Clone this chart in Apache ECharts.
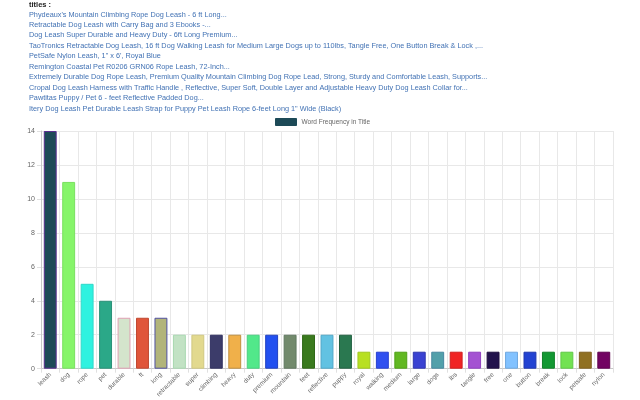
<!DOCTYPE html>
<html>
<head>
<meta charset="utf-8">
<script src="https://cdn.jsdelivr.net/npm/echarts@6/dist/echarts.min.js"></script>
<style>html,body{margin:0;padding:0;background:#fff;}#c{width:640px;height:400px;}</style>
</head>
<body>
<div id="c"></div>
<script>
const headerLabel = 'titles :';
const titleLines = [
  "Phydeaux's Mountain Climbing Rope Dog Leash - 6 ft Long...",
  "Retractable Dog Leash with Carry Bag and 3 Ebooks -...",
  "Dog Leash Super Durable and Heavy Duty - 6ft Long Premium...",
  "TaoTronics Retractable Dog Leash, 16 ft Dog Walking Leash for Medium Large Dogs up to 110lbs, Tangle Free, One Button Break & Lock ,...",
  "PetSafe Nylon Leash, 1\" x 6', Royal Blue",
  "Remington Coastal Pet R0206 GRN06 Rope Leash, 72-Inch...",
  "Extremely Durable Dog Rope Leash, Premium Quality Mountain Climbing Dog Rope Lead, Strong, Sturdy and Comfortable Leash, Supports...",
  "Cropal Dog Leash Harness with Traffic Handle , Reflective, Super Soft, Double Layer and Adjustable Heavy Duty Dog Leash Collar for...",
  "Pawtitas Puppy / Pet 6 - feet Reflective Padded Dog...",
  "Itery Dog Leash Pet Durable Leash Strap for Puppy Pet Leash Rope 6-feet Long 1\" Wide (Black)"
];
const seriesName = 'Word Frequency in Title';
const categories = ['leash','dog','rope','pet','durable','ft','long','retractable','super','climbing','heavy','duty','premium','mountain','feet','reflective','puppy','royal','walking','medium','large','dogs','lbs','tangle','free','one','button','break','lock','petsafe','nylon'];
const values = [14,11,5,4,3,3,3,2,2,2,2,2,2,2,2,2,2,1,1,1,1,1,1,1,1,1,1,1,1,1,1];
const barColors = ['#1d4a57','#86f56a','#2ef2e0','#2ba888','#d4e4cc','#e0553a','#b2b47a','#c2e2c4','#e2d98e','#3c3c6a','#f0b04a','#52e88a','#2250f0','#728a6c','#3a7a1e','#62c2e2','#2a7850','#b8e022','#3050f0','#62b822','#3a42d2','#52a0aa','#f02424','#a452d2','#22124c','#82c2ff','#2242d2','#129832','#72e252','#907022','#720462'];
const borderColors = ['#5a2e90','#7ae060','#30d8c8','#2a9078','#e0a0b4','#c04830','#5050a0','#a8d8b0','#d0c880','#303060','#c09040','#48d080','#2040c0','#607860','#306818','#50a8c8','#206040','#a0c820','#2840d0','#50a018','#3038b0','#4888a0','#d02020','#9040c0','#201040','#70a8e0','#2038b0','#108028','#60c848','#806020','#600450'];
const yTicks = [0,2,4,6,8,10,12,14];

const chart = echarts.init(document.getElementById('c'));
const graphics = [{
  type: 'text', left: 29, top: 1,
  style: {text: headerLabel, font: 'bold 7.5px "Liberation Sans", Arial, sans-serif', fill: '#222'}
}];
titleLines.forEach((t, i) => {
  graphics.push({
    type: 'text', left: 29, top: 11 + i * 10.45,
    style: {text: t, font: '7.3px "Liberation Sans", Arial, sans-serif', fill: '#4272b4'}
  });
});
chart.setOption({
  animation: false,
  graphic: graphics,
  legend: {
    top: 113, left: 270,
    icon: 'rect',
    itemWidth: 21, itemHeight: 7, itemGap: 4,
    textStyle: {fontSize: 6.5, color: '#666', fontFamily: '"Liberation Sans", Arial, sans-serif'},
    data: [{name: seriesName, itemStyle: {color: barColors[0], borderColor: barColors[0], borderWidth: 1}}]
  },
  grid: {left: 41, right: 27, top: 131, bottom: 27, containLabel: false},
  xAxis: {
    type: 'category', data: categories,
    axisLine: {show: true, lineStyle: {color: '#c8c8c8'}},
    axisTick: {show: true, length: 4, lineStyle: {color: '#e0e0e0'}, alignWithLabel: false},
    splitLine: {show: true, lineStyle: {color: '#e8e8e8'}},
    axisLabel: {rotate: 45, fontSize: 6.5, color: '#666', margin: 5, interval: 0, fontFamily: '"Liberation Sans", Arial, sans-serif'}
  },
  yAxis: {
    type: 'value', min: yTicks[0], max: yTicks[yTicks.length - 1], interval: 2,
    axisLine: {show: true, lineStyle: {color: '#c8c8c8'}},
    axisTick: {show: true, length: 4, lineStyle: {color: '#e0e0e0'}},
    splitLine: {show: true, lineStyle: {color: '#e8e8e8'}},
    axisLabel: {fontSize: 7, color: '#666', margin: 6, fontFamily: '"Liberation Sans", Arial, sans-serif'}
  },
  series: [{
    name: seriesName, type: 'bar', barWidth: '70%',
    data: values.map((v, i) => ({value: v, itemStyle: {color: barColors[i], borderColor: borderColors[i], borderWidth: 1}}))
  }]
});
</script>
</body>
</html>
